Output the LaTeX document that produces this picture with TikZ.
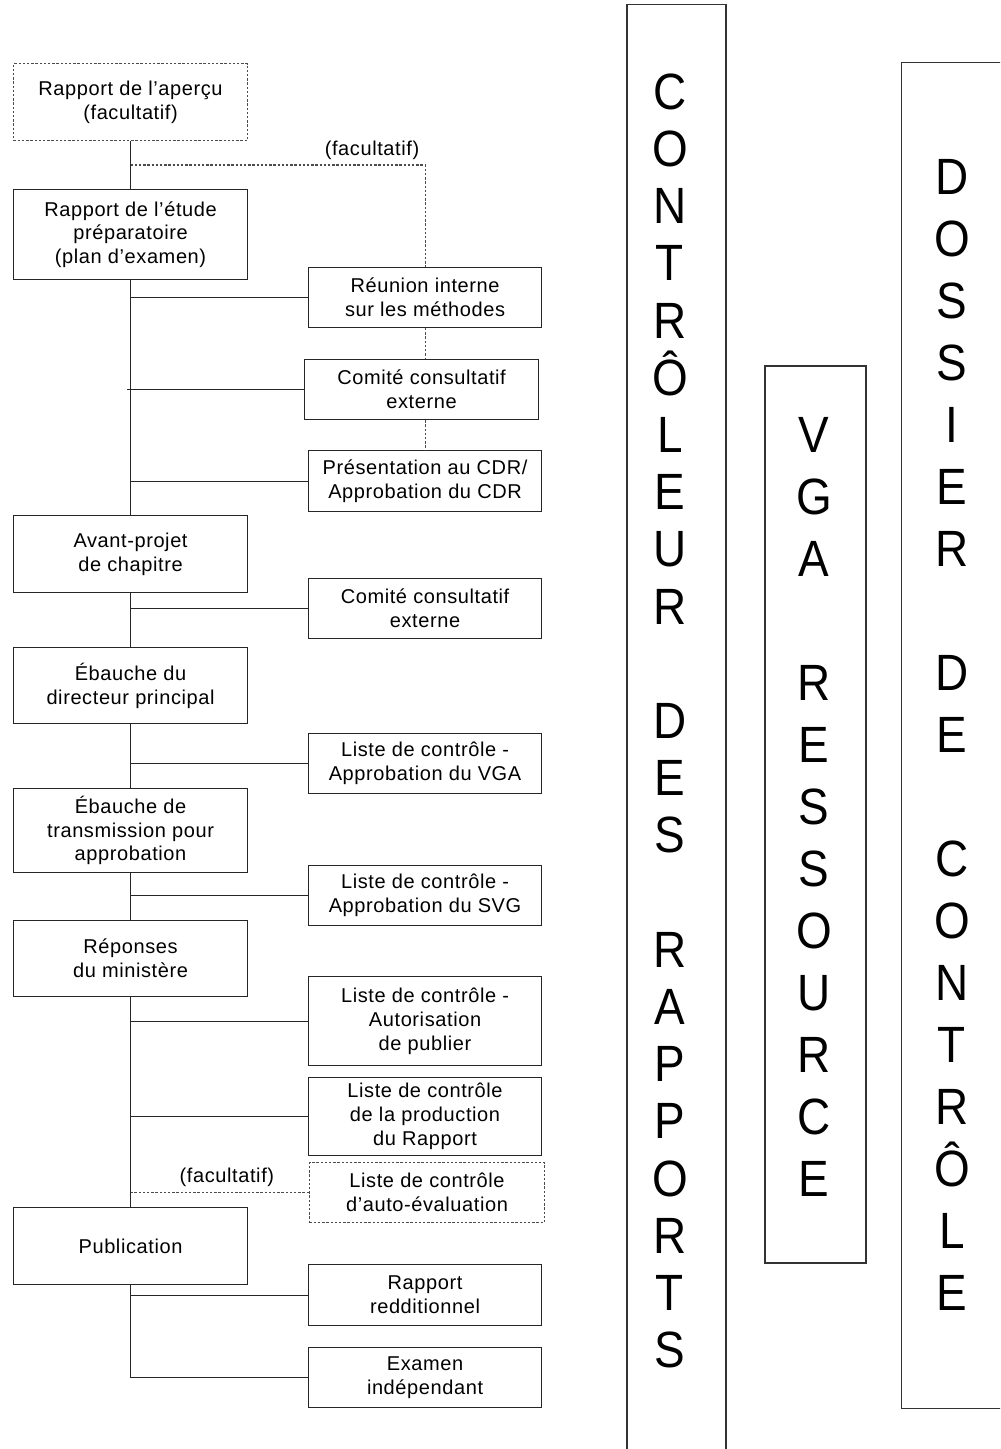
\documentclass[tikz,border=0pt]{standalone}
\usepackage{fontspec}
\setmainfont{Liberation Sans}[LetterSpace=3.0]
\newfontfamily\bigfont{Liberation Sans}[FakeStretch=0.9]
\usetikzlibrary{positioning,calc}

\begin{document}
\begin{tikzpicture}[x=0.5pt,y=-0.5pt,
  flowbox/.style={draw=black!85,line width=0.55pt,anchor=north west,align=center,inner sep=2pt,font=\fontsize{10}{11.9}\selectfont},
  stage/.style={flowbox,minimum width=117pt},
  checkbox/.style={flowbox,minimum width=116.5pt,minimum height=30pt},
  maybe/.style={dash pattern=on 1.2pt off 0.9pt,draw=black!70},
  link/.style={draw=black!85,line width=0.55pt},
  optlink/.style={link,maybe},
  optlabel/.style={above,inner sep=2.5pt,font=\fontsize{10}{11.9}\selectfont},
  colbox/.style={draw=black!80,line width=0.6pt},
  bigletters/.style={align=center,inner sep=0pt,font=\bigfont\fontsize{25.5}{#1}\selectfont}]
\clip (0,0) rectangle (1000,1449);

\node[stage,minimum height=38.5pt,maybe] (apercu) at (13,63) {Rapport de l’aperçu\\(facultatif)};
\node[stage,minimum height=45pt] (etude) at (13,189) {Rapport de l’étude\\préparatoire\\(plan d’examen)};
\node[stage,minimum height=38.5pt] (avant) at (13,515) {Avant-projet\\de chapitre};
\node[stage,minimum height=38pt] (ebauche) at (13,647) {Ébauche du\\directeur principal};
\node[stage,minimum height=42pt] (transm) at (13,788) {Ébauche de\\transmission pour\\approbation};
\node[stage,minimum height=38pt] (reponses) at (13,920) {Réponses\\du ministère};
\node[stage,minimum height=38.5pt] (publication) at (13,1207) {Publication};

\node[checkbox] (reunion) at (308,267) {Réunion interne\\sur les méthodes};
\node[checkbox,minimum width=117pt] (comite1) at (304,359) {Comité consultatif\\externe};
\node[checkbox,minimum height=30.5pt] (cdr) at (308,450) {Présentation au CDR/\\Approbation du CDR};
\node[checkbox] (comite2) at (308,578) {Comité consultatif\\externe};
\node[checkbox] (listevga) at (308,733) {Liste de contrôle -\\Approbation du VGA};
\node[checkbox] (listesvg) at (308,865) {Liste de contrôle -\\Approbation du SVG};
\node[checkbox,minimum height=44.5pt] (autoris) at (308,976) {Liste de contrôle -\\Autorisation\\de publier};
\node[checkbox,minimum height=39pt] (prod) at (308,1077) {Liste de contrôle\\de la production\\du Rapport};
\node[checkbox,minimum width=117.5pt,maybe] (autoeval) at (309,1162) {Liste de contrôle\\d’auto-évaluation};
\node[checkbox,minimum height=30.5pt] (reddition) at (308,1264) {Rapport\\redditionnel};
\node[checkbox] (examen) at (308,1347) {Examen\\indépendant};

\draw[link] (apercu) -- (etude);
\draw[link] (etude) -- (avant);
\draw[link] (avant) -- (ebauche);
\draw[link] (ebauche) -- (transm);
\draw[link] (transm) -- (reponses);
\draw[link] (reponses) -- (publication);
\draw[link] (publication) |- (examen);

\draw[link] (reunion) -- (reunion -| etude.south);
\draw[link] (comite1) -- ($(comite1 -| etude.south)+(-4,0)$);
\draw[link] (cdr) -- (cdr -| etude.south);
\draw[link] (comite2) -- (comite2 -| avant.south);
\draw[link] (listevga) -- (listevga -| ebauche.south);
\draw[link] (listesvg) -- (listesvg -| transm.south);
\draw[link] (autoris) -- (autoris -| reponses.south);
\draw[link] (prod) -- (prod -| reponses.south);
\draw[link] (reddition) -- (reddition -| publication.south);

\coordinate (fork) at ($(apercu.south)!0.5!(etude.north)$);
\draw[optlink] (fork) -| node[optlabel,pos=0.41] {(facultatif)} (reunion);
\draw[optlink] (reunion) -- (reunion.south |- comite1.north);
\draw[optlink] (comite1.south -| reunion.south) -- (cdr);
\draw[optlink] (autoeval) -- node[optlabel,pos=0.46] {(facultatif)} (autoeval -| reponses.south);

\node[colbox,anchor=north,minimum width=49.5pt,minimum height=730pt] (ctrlbox) at (676.5,4) {};
\node[bigletters=28.6pt] (ctrl) at (670,721) {C\\O\\N\\T\\R\\Ô\\L\\E\\U\\R\\~\\D\\E\\S\\~\\R\\A\\P\\P\\O\\R\\T\\S};
\node[colbox,minimum width=50.5pt,minimum height=448.5pt] (vgabox) at (815.5,814.5) {};
\node[bigletters=31pt] (vga) at (814,807) {V\\G\\A\\~\\R\\E\\S\\S\\O\\U\\R\\C\\E};
\node[colbox,anchor=north west,minimum width=50.5pt,minimum height=673pt] (dossierbox) at (901,62) {};
\node[bigletters=31pt] (dossier) at (952,735) {D\\O\\S\\S\\I\\E\\R\\~\\D\\E\\~\\C\\O\\N\\T\\R\\Ô\\L\\E};
\end{tikzpicture}
\end{document}
